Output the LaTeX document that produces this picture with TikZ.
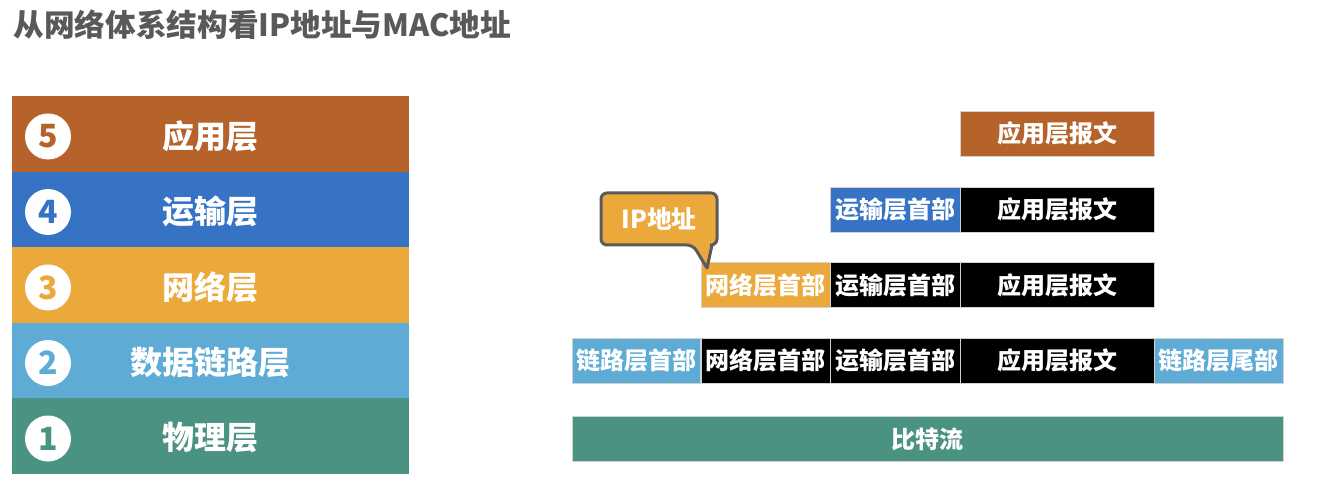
\documentclass[tikz,border=0pt]{standalone}
\usepackage{fontspec}
\setmainfont{Noto Sans CJK SC}

\definecolor{appc}{RGB}{181,99,42}
\definecolor{tranc}{RGB}{55,115,197}
\definecolor{netc}{RGB}{235,169,59}
\definecolor{linkc}{RGB}{94,171,213}
\definecolor{phyc}{RGB}{74,146,130}
\definecolor{titlec}{RGB}{89,89,89}
\definecolor{notec}{RGB}{90,90,90}

\tikzset{every picture/.style={line width=0.75pt}}
\tikzset{
  layerbox/.style={rectangle, fill=#1, minimum width=297.75pt, minimum height=56.7pt, inner sep=0pt},
  layernum/.style={circle, fill=white, minimum size=34.5pt, inner sep=0pt, text=#1, font=\fontsize{24}{24}\selectfont\bfseries},
  layertext/.style={inner sep=0pt, text=white, font=\fontsize{24}{24}\selectfont\bfseries},
  pdubox/.style={rectangle, fill=#1, draw=white!82!black, line width=0.4pt, minimum height=33.75pt, inner sep=0pt, text=white, font=\fontsize{18}{18}\selectfont\bfseries},
}

\begin{document}
\begin{tikzpicture}[x=0.75pt,y=0.75pt,yscale=-1,xscale=1]
\useasboundingbox (0,0) rectangle (1338,502);

% Title
\node (title) [anchor=west, inner sep=0pt, text=titlec, font=\fontsize{23}{23}\selectfont\bfseries] at (13,25) {从网络体系结构看IP地址与MAC地址};

%Left stack: five layers
\node (L5) [layerbox=appc] at (210.5,133.8) {};
\node (L4) [layerbox=tranc] at (210.5,209.4) {};
\node (L3) [layerbox=netc] at (210.5,285) {};
\node (L2) [layerbox=linkc] at (210.5,360.6) {};
\node (L1) [layerbox=phyc] at (210.5,436.2) {};
% Numbers
\node (n5) [layernum=appc] at (48,136.5) {5};
\node (n4) [layernum=tranc] at (48,212) {4};
\node (n3) [layernum=netc] at (48,287.5) {3};
\node (n2) [layernum=linkc] at (48,363) {2};
\node (n1) [layernum=phyc] at (48,438.5) {1};
% Layer names
\node (t5) [layertext] at (210,136) {应用层};
\node (t4) [layertext] at (210,211.5) {运输层};
\node (t3) [layertext] at (210,287) {网络层};
\node (t2) [layertext] at (210,362.5) {数据链路层};
\node (t1) [layertext] at (210,438) {物理层};

%Right side: encapsulation
\node (appA) [pdubox=appc, minimum width=145.5pt] at (1057,133.5) {应用层报文};
%
\node (tranB) [pdubox=tranc, minimum width=97.5pt] at (895,209.5) {运输层首部};
\node (appB) [pdubox=black, minimum width=145.5pt] at (1057,209.5) {应用层报文};
%
\node (netC) [pdubox=netc, minimum width=96.75pt] at (765.5,285) {网络层首部};
\node (tranC) [pdubox=black, minimum width=97.5pt] at (895,285) {运输层首部};
\node (appC) [pdubox=black, minimum width=145.5pt] at (1057,285) {应用层报文};
%
\node (linkD) [pdubox=linkc, minimum width=96pt] at (636,360.5) {链路层首部};
\node (netD) [pdubox=black, minimum width=96.75pt] at (765.5,360.5) {网络层首部};
\node (tranD) [pdubox=black, minimum width=97.5pt] at (895,360.5) {运输层首部};
\node (appD) [pdubox=black, minimum width=145.5pt] at (1057,360.5) {应用层报文};
\node (tailD) [pdubox=linkc, minimum width=96.75pt] at (1218.5,360.5) {链路层尾部};
%
\node (bits) [pdubox=phyc, minimum width=533.25pt] at (927.5,439) {比特流};

%Shape: Callout
\draw [color=notec, fill=netc, line width=2.25pt, line join=round, rounded corners=4.5pt] (712,245) -- (717,245) -- (717,193) -- (601,193) -- (601,245) -- (693,245) [sharp corners] -- (707,268) -- cycle ;
% Text Node
\node (ipnote) [layertext, font=\fontsize{18.5}{18.5}\selectfont\bfseries] at (659,219) {IP地址};

\end{tikzpicture}
\end{document}
